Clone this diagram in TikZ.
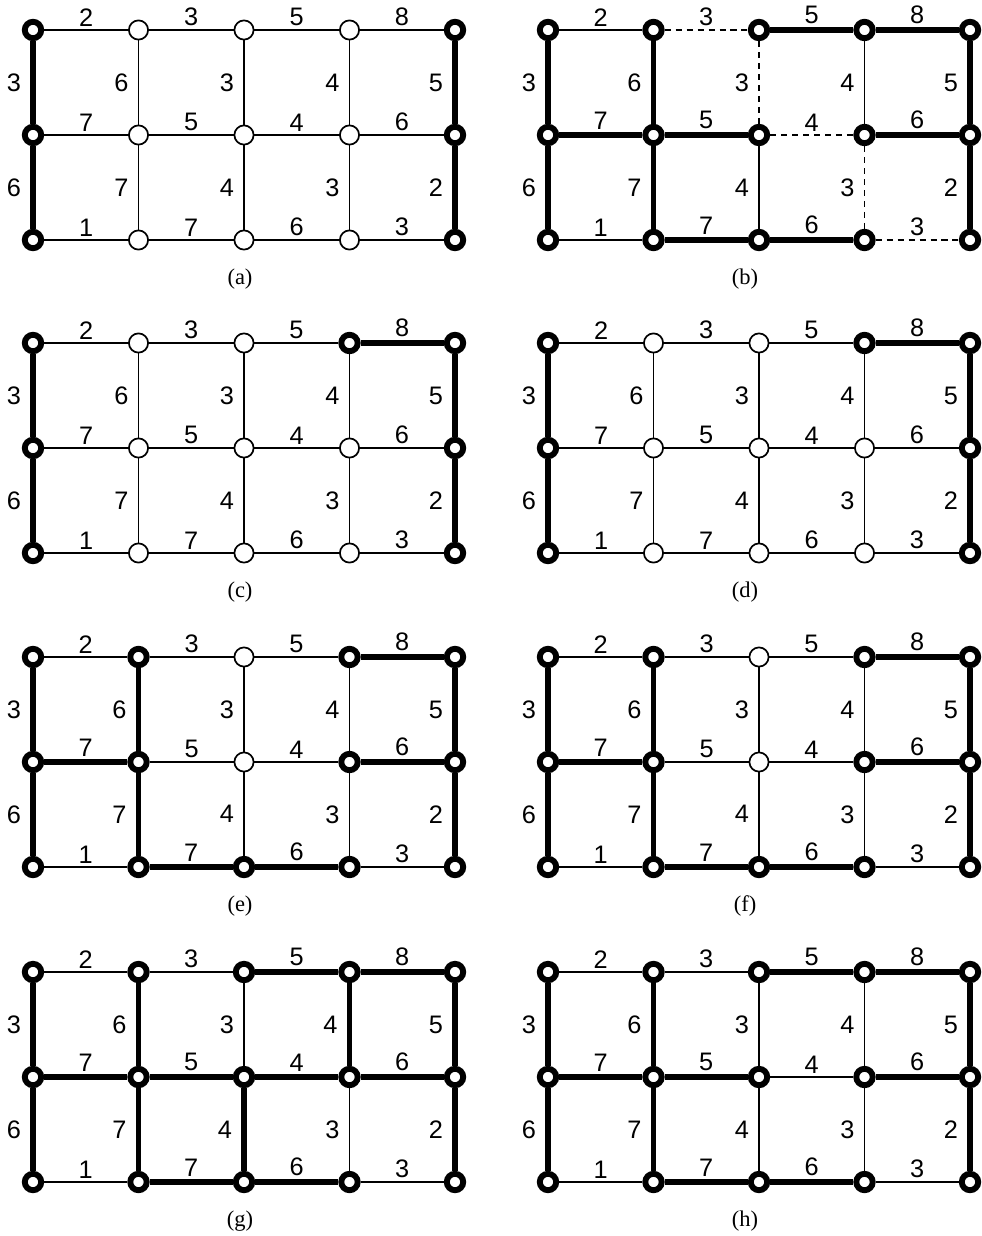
\documentclass[tikz,border=0pt]{standalone}
\usepackage{fontspec}
\setmainfont{Liberation Serif}
\setsansfont{Liberation Sans}
\usetikzlibrary{positioning}
\tikzset{
    plainvertex/.style={
        circle,
        draw=black,
        fill=white,
        line width=1.2pt,
        minimum size=0.48cm,
        inner sep=0pt
    },
    boldvertex/.style={
        circle,
        draw=black,
        fill=white,
        line width=4.2pt,
        minimum size=0.41cm,
        inner sep=0pt
    },
    thinedge/.style={
        line width=1.4pt,
        black
    },
    thickedge/.style={
        line width=4.2pt,
        black
    },
    dashededge/.style={
        line width=1.4pt,
        black,
        dash pattern=on 4.3pt off 3.5pt
    },
    wlabel/.style={
        font=\sffamily\fontsize{18}{21}\selectfont,
        inner sep=1pt
    },
    subcap/.style={
        font=\fontsize{16}{19}\selectfont,
        inner sep=1pt
    }
}
% #1 name, #2/#3 top left vertex, #4 caption x, #5 vertices, #6 rows, #7 columns
\newcommand{\gridpanel}[7]{
    \foreach \s [count=\k from 0] in {#5} {
        \pgfmathtruncatemacro\i{mod(\k,5)}
        \pgfmathtruncatemacro\j{div(\k,5)}
        \node[\s vertex] (#1-\i-\j) at ({#2+105.5*\i},{#3+105*\j}) {};
    }
    \foreach \s [count=\k from 0] in {#6} {
        \pgfmathtruncatemacro\i{mod(\k,4)}
        \pgfmathtruncatemacro\ii{\i+1}
        \pgfmathtruncatemacro\j{div(\k,4)}
        \pgfmathtruncatemacro\w{{2,3,5,8,7,5,4,6,1,7,6,3}[\k]}
        \draw[\s edge] (#1-\i-\j) -- node[wlabel, above=1.1pt] (#1-h\k) {\w} (#1-\ii-\j);
    }
    \foreach \s [count=\k from 0] in {#7} {
        \pgfmathtruncatemacro\i{mod(\k,5)}
        \pgfmathtruncatemacro\j{div(\k,5)}
        \pgfmathtruncatemacro\jj{\j+1}
        \pgfmathtruncatemacro\w{{3,6,3,4,5,6,7,4,3,2}[\k]}
        \draw[\s edge] (#1-\i-\j) -- node[wlabel, left=5.4pt] (#1-v\k) {\w} (#1-\i-\jj);
    }
    \node[subcap] (#1-cap) at (#4,{#3+249}) {(#1)};
}
\begin{document}
\begin{tikzpicture}[x=0.025cm, y=-0.025cm]
    \useasboundingbox (0,0) rectangle (981,1236);

    \gridpanel{a}{33}{30}{240}
        {bold,plain,plain,plain,bold, bold,plain,plain,plain,bold, bold,plain,plain,plain,bold}
        {thin,thin,thin,thin, thin,thin,thin,thin, thin,thin,thin,thin}
        {thick,thin,thin,thin,thick, thick,thin,thin,thin,thick}

    \gridpanel{b}{548}{30}{745}
        {bold,bold,bold,bold,bold, bold,bold,bold,bold,bold, bold,bold,bold,bold,bold}
        {thin,dashed,thick,thick, thick,thick,dashed,thick, thin,thick,thick,dashed}
        {thick,thick,dashed,thin,thick, thick,thick,thin,dashed,thick}

    \gridpanel{c}{33}{343}{240}
        {bold,plain,plain,bold,bold, bold,plain,plain,plain,bold, bold,plain,plain,plain,bold}
        {thin,thin,thin,thick, thin,thin,thin,thin, thin,thin,thin,thin}
        {thick,thin,thin,thin,thick, thick,thin,thin,thin,thick}

    \gridpanel{d}{548}{343}{745}
        {bold,plain,plain,bold,bold, bold,plain,plain,plain,bold, bold,plain,plain,plain,bold}
        {thin,thin,thin,thick, thin,thin,thin,thin, thin,thin,thin,thin}
        {thick,thin,thin,thin,thick, thick,thin,thin,thin,thick}

    \gridpanel{e}{33}{657}{240}
        {bold,bold,plain,bold,bold, bold,bold,plain,bold,bold, bold,bold,bold,bold,bold}
        {thin,thin,thin,thick, thick,thin,thin,thick, thin,thick,thick,thin}
        {thick,thick,thin,thin,thick, thick,thick,thin,thin,thick}

    \gridpanel{f}{548}{657}{745}
        {bold,bold,plain,bold,bold, bold,bold,plain,bold,bold, bold,bold,bold,bold,bold}
        {thin,thin,thin,thick, thick,thin,thin,thick, thin,thick,thick,thin}
        {thick,thick,thin,thin,thick, thick,thick,thin,thin,thick}

    \gridpanel{g}{33}{972}{240}
        {bold,bold,bold,bold,bold, bold,bold,bold,bold,bold, bold,bold,bold,bold,bold}
        {thin,thin,thick,thick, thick,thick,thick,thick, thin,thick,thick,thin}
        {thick,thick,thin,thick,thick, thick,thick,thick,thin,thick}

    \gridpanel{h}{548}{972}{745}
        {bold,bold,bold,bold,bold, bold,bold,bold,bold,bold, bold,bold,bold,bold,bold}
        {thin,thin,thick,thick, thick,thick,thin,thick, thin,thick,thick,thin}
        {thick,thick,thin,thin,thick, thick,thick,thin,thin,thick}
\end{tikzpicture}
\end{document}
